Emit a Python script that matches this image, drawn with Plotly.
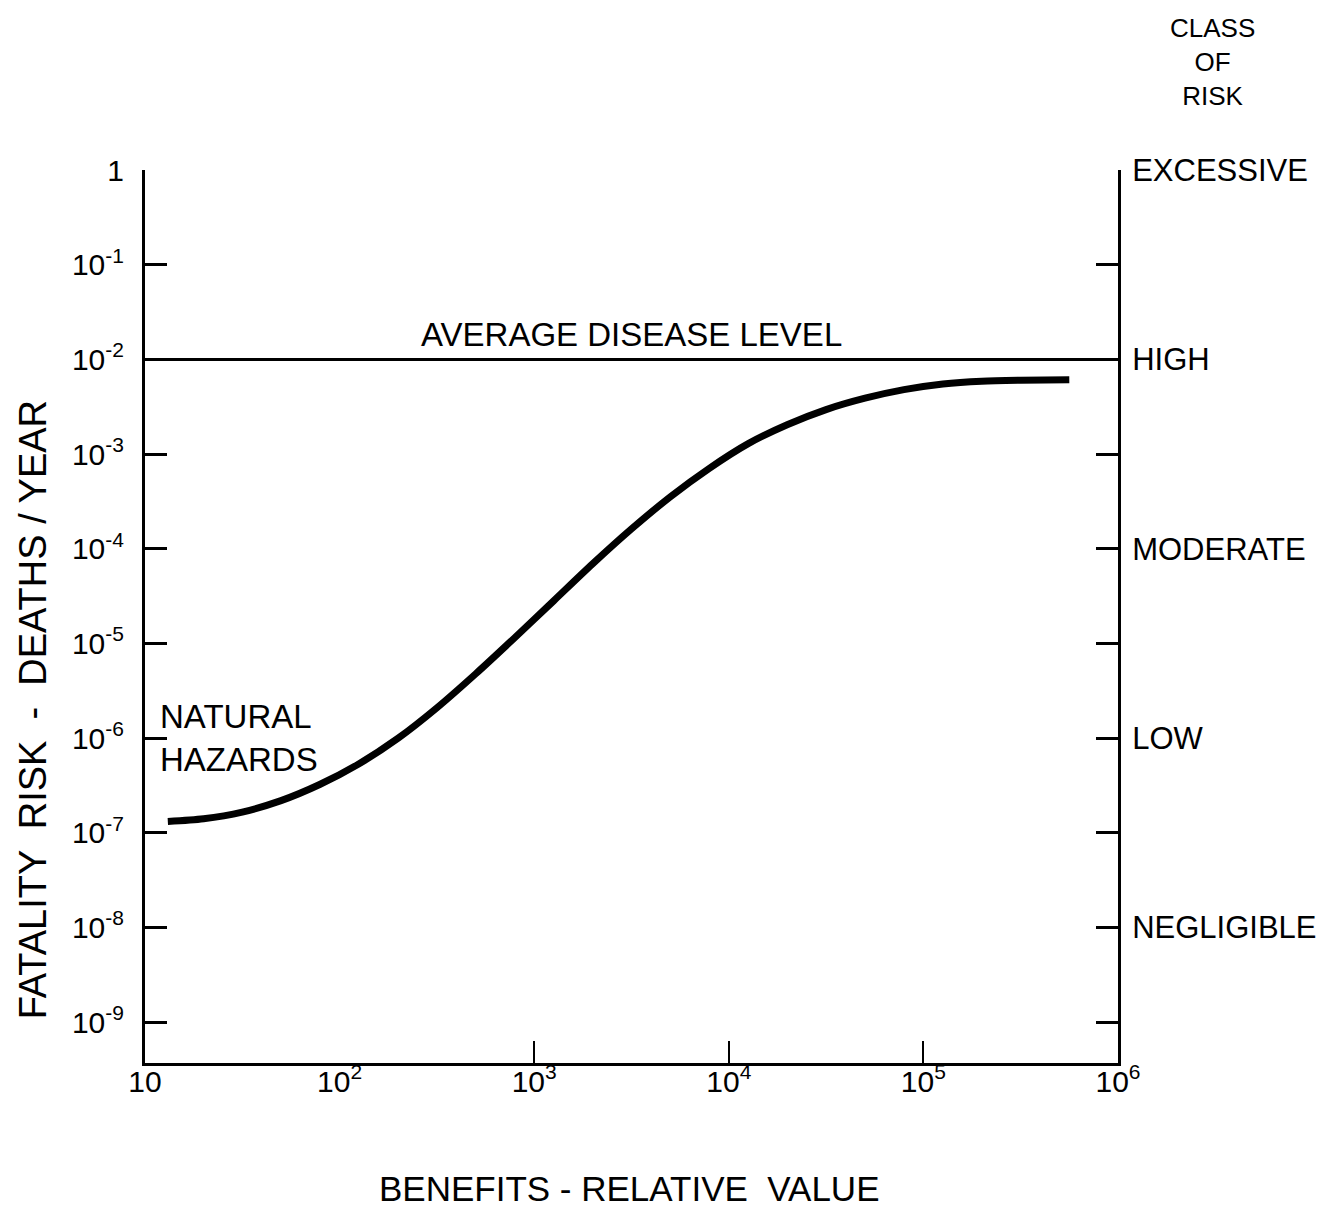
import plotly.graph_objects as go

# ---- data ----
benefits = [13.1, 20, 31.6, 50, 79, 126, 200, 316, 501, 794, 1259, 1995,
            3162, 5012, 7943, 12590, 19950, 31620, 50120, 79430, 125900,
            199500, 316200, 562000]
risk = [1.32e-7, 1.41e-7, 1.66e-7, 2.19e-7, 3.24e-7, 5.37e-7, 1.0e-6,
        2.09e-6, 4.79e-6, 1.15e-5, 2.82e-5, 6.92e-5, 1.62e-4, 3.55e-4,
        7.08e-4, 1.29e-3, 2.04e-3, 2.95e-3, 3.89e-3, 4.79e-3, 5.50e-3,
        5.89e-3, 6.03e-3, 6.10e-3]
disease_x = [10, 1e6]
disease_y = [1e-2, 1e-2]

x_tickvals = [10, 1e2, 1e3, 1e4, 1e5, 1e6]
x_ticktext = ["10", "10<sup>2</sup>", "10<sup>3</sup>", "10<sup>4</sup>",
              "10<sup>5</sup>", "10<sup>6</sup>"]
x_minor_ticks = [1e3, 1e4, 1e5]
y_tickvals = [1, 1e-1, 1e-2, 1e-3, 1e-4, 1e-5, 1e-6, 1e-7, 1e-8, 1e-9]
y_ticktext = ["1", "10<sup>-1</sup>", "10<sup>-2</sup>", "10<sup>-3</sup>",
              "10<sup>-4</sup>", "10<sup>-5</sup>", "10<sup>-6</sup>",
              "10<sup>-7</sup>", "10<sup>-8</sup>", "10<sup>-9</sup>"]
class_text = ["EXCESSIVE", "", "HIGH", "", "MODERATE", "", "LOW", "",
              "NEGLIGIBLE", ""]

FONT = "Liberation Sans, Arial, sans-serif"
YR = [-9.43, 0]
XR = [1, 6]

fig = go.Figure()
fig.add_trace(go.Scatter(x=disease_x, y=disease_y, mode="lines",
                         line=dict(color="black", width=3), showlegend=False,
                         hoverinfo="skip"))
fig.add_trace(go.Scatter(x=benefits, y=risk, mode="lines",
                         line=dict(color="black", width=7, shape="spline",
                                   smoothing=0.8),
                         showlegend=False))
# invisible trace for secondary axes
fig.add_trace(go.Scatter(x=[1e3], y=[1e-3], xaxis="x2", yaxis="y2",
                         mode="markers", marker=dict(opacity=0),
                         showlegend=False, hoverinfo="skip"))

# page body has an 8px margin: shrink the figure so it fits the window
fig.update_layout(
    width=1330, height=1199,
    margin=dict(l=137, r=220, t=162, b=144, autoexpand=False),
    paper_bgcolor="white", plot_bgcolor="white",
    font=dict(family=FONT, color="black", size=30),
    xaxis=dict(type="log", range=XR, tickmode="array", tickvals=x_tickvals,
               ticktext=x_ticktext, ticks="", showgrid=False, zeroline=False,
               showline=True, linecolor="black", linewidth=3,
               tickfont=dict(size=30), ticklabelstandoff=-10,
               automargin=False),
    xaxis2=dict(type="log", range=XR, overlaying="x", anchor="y",
                tickmode="array", tickvals=x_minor_ticks, ticks="inside",
                ticklen=22, tickwidth=2, tickcolor="black",
                showticklabels=False, showgrid=False, zeroline=False,
                showline=False, automargin=False),
    yaxis=dict(type="log", range=YR, tickmode="array", tickvals=y_tickvals,
               ticktext=y_ticktext, ticks="inside", ticklen=22, tickwidth=3,
               tickcolor="black", showgrid=False, zeroline=False,
               showline=True, linecolor="black", linewidth=3,
               tickfont=dict(size=30), ticklabelstandoff=12,
               automargin=False),
    yaxis2=dict(type="log", range=YR, overlaying="y", side="right",
                anchor="x", tickmode="array", tickvals=y_tickvals,
                ticktext=class_text, ticks="inside", ticklen=22, tickwidth=3,
                tickcolor="black", showgrid=False, zeroline=False,
                showline=True, linecolor="black", linewidth=3,
                tickfont=dict(size=31), ticklabelstandoff=5,
                automargin=False),
)

fig.add_annotation(x=3.5, y=-1.74, xref="x", yref="y",
                   xanchor="center", yanchor="middle",
                   text="AVERAGE DISEASE LEVEL", showarrow=False,
                   font=dict(size=33))
fig.add_annotation(x=1.065, y=-6.0, xref="x", yref="y", xanchor="left",
                   yanchor="middle", align="left",
                   text="NATURAL<br>HAZARDS", showarrow=False,
                   font=dict(size=33))
fig.add_annotation(x=1.097, y=1.121, xref="paper", yref="paper",
                   xanchor="center", yanchor="middle",
                   text="CLASS<br>OF<br>RISK", showarrow=False,
                   font=dict(size=26))
fig.add_annotation(x=-0.115, y=0.395, xref="paper", yref="paper",
                   xanchor="center", yanchor="middle",
                   text="FATALITY  RISK  -  DEATHS / YEAR", textangle=-90,
                   showarrow=False, font=dict(size=38))
fig.add_annotation(x=0.498, y=-0.14, xref="paper", yref="paper",
                   xanchor="center", yanchor="middle",
                   text="BENEFITS - RELATIVE  VALUE", showarrow=False,
                   font=dict(size=35))

fig.write_html("out.html")
